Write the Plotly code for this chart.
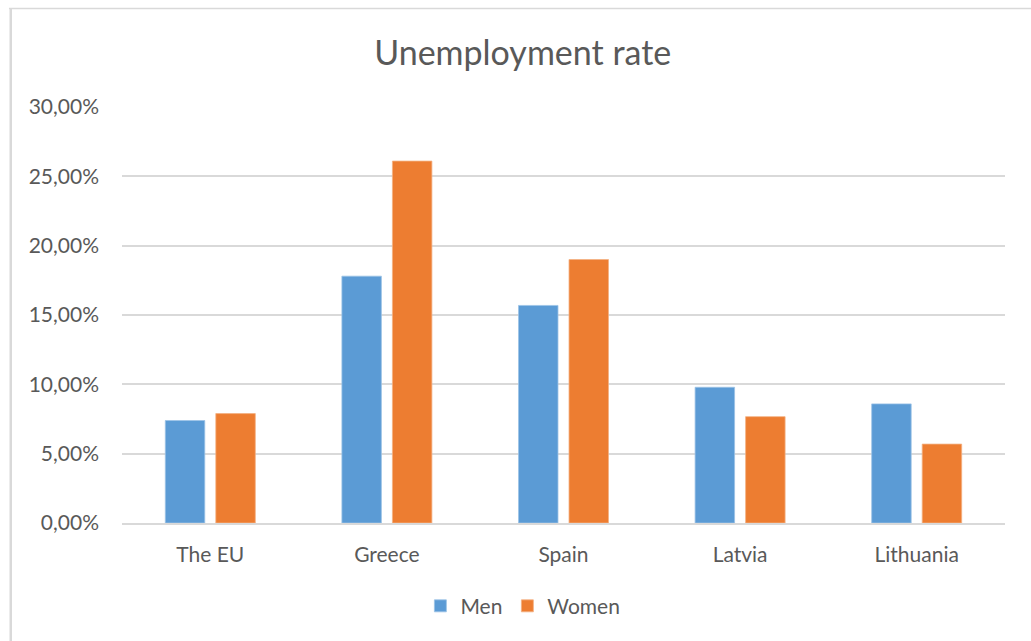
import plotly.graph_objects as go

# Unemployment rate by sex (%)
countries = ["The EU", "Greece", "Spain", "Latvia", "Lithuania"]
men = [7.39, 17.8, 15.69, 9.79, 8.59]
women = [7.89, 26.1, 19.0, 7.67, 5.69]
y_ticks = [0, 5, 10, 15, 20, 25, 30]
y_tick_labels = ["0,00%", "5,00%", "10,00%", "15,00%", "20,00%", "25,00%", "30,00%"]

BLUE = "#5B9BD5"
ORANGE = "#ED7D31"
TEXT = "#595959"
GRID = "#D9D9D9"
FONT = "Lato, Open Sans, sans-serif"

fig = go.Figure()
fig.add_trace(go.Bar(name="Men", x=countries, y=men,
                     marker=dict(color=BLUE, line=dict(color="#9CC3E6", width=0.8))))
fig.add_trace(go.Bar(name="Women", x=countries, y=women,
                     marker=dict(color=ORANGE, line=dict(color="#F4B183", width=0.8))))

# light frame of the chart area (top and left edges visible)
fig.add_shape(type="line", xref="paper", yref="paper",
              x0=-0.128, x1=1.1, y0=1.237, y1=1.237,
              line=dict(color=GRID, width=1.5))
fig.add_shape(type="line", xref="paper", yref="paper",
              x0=-0.126, x1=-0.126, y0=1.237, y1=-0.4,
              line=dict(color=GRID, width=2.5))

fig.update_layout(
    width=1031, height=641,
    margin=dict(l=122, r=26, t=107, b=118),
    paper_bgcolor="white", plot_bgcolor="white",
    font=dict(family=FONT, color=TEXT, size=21),
    title=dict(text="Unemployment rate", x=0.507, xref="container", xanchor="center",
               y=1 - 53 / 641, yref="container", yanchor="middle",
               font=dict(family=FONT, size=34, color=TEXT)),
    barmode="group", bargap=0.428, bargroupgap=0.218,
    legend=dict(orientation="h", x=0.454, xanchor="center", y=-0.2, yanchor="middle",
                font=dict(family=FONT, size=21, color=TEXT), traceorder="normal",
                itemwidth=30),
    showlegend=True,
)
fig.update_xaxes(showgrid=False, showline=True, linecolor=GRID, linewidth=2,
                 ticks="", ticklabelstandoff=12,
                 tickfont=dict(family=FONT, size=21, color=TEXT))
fig.update_yaxes(range=[0, 30], tickvals=y_ticks, ticktext=y_tick_labels,
                 showgrid=True, gridcolor=GRID, gridwidth=2, zeroline=False,
                 showline=False, ticks="", ticklabelstandoff=22,
                 tickfont=dict(family=FONT, size=21, color=TEXT))

fig.write_html("out.html")
